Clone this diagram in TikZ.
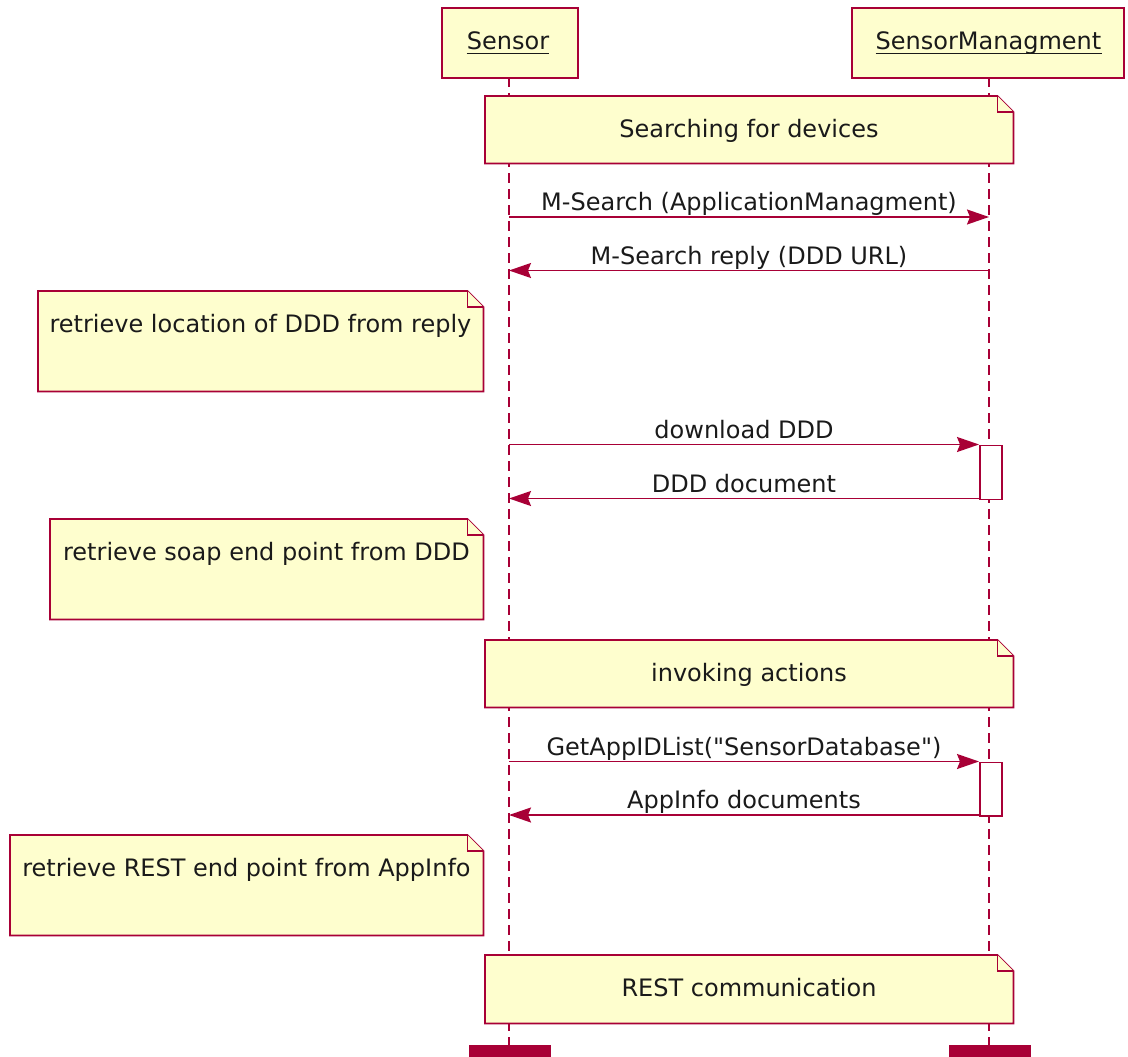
\documentclass[tikz,border=0pt]{standalone}
\usepackage{fontspec}
\setmainfont{DejaVu Sans}[Ligatures=TeXOff]
\usetikzlibrary{arrows.meta}
\definecolor{umlred}{HTML}{A80036}
\definecolor{umlfill}{HTML}{FEFECE}
\definecolor{umltext}{HTML}{1A1A1A}
\tikzset{
  x=1pt, y=-1pt,
  every node/.style={font=\fontsize{24}{28}\selectfont, text=umltext},
  participant/.style={draw=umlred, fill=umlfill, line width=2.2pt, inner sep=0pt, anchor=north west},
  lifeline/.style={draw=umlred, line width=1.8pt, dash pattern=on 10pt off 6pt},
  msg/.style={draw=umlred, line width=1.7pt, -{Stealth[length=22pt,width=15pt,inset=3pt]}},
  notebody/.style={draw=umlred, fill=umlfill, line width=1.8pt, line join=miter},
  notearea/.style={inner sep=0pt, anchor=north west},
  activation/.style={draw=umlred, fill=white, line width=1.8pt, inner sep=0pt, anchor=north west},
  footer/.style={fill=umlred, draw=none, inner sep=0pt, anchor=north west},
  lbl/.style={anchor=base, inner sep=0pt},
  uline/.style={draw=umltext, line width=1.3pt},
}
\newcommand{\umlnote}[6]{%
  \node[notearea, minimum width={#4-#2}, minimum height={#5-#3}] (#1) at (#2,#3) {};
  \path[notebody] (#1.north west) -- ([xshift=-16pt]#1.north east) -- ([yshift=-16pt]#1.north east)
     -- (#1.south east) -- (#1.south west) -- cycle;
  \path[notebody] ([xshift=-16pt]#1.north east) -- ([xshift=-16pt,yshift=-16pt]#1.north east) -- ([yshift=-16pt]#1.north east);
  \node[lbl] (#1-text) at ({(#2+#4)/2},{#3+41}) {#6};
}
\begin{document}
\begin{tikzpicture}
\useasboundingbox (0,0) rectangle (1128,1057);

% lifelines
\coordinate (sTop) at (509,77);
\coordinate (sBot) at (509,1045);
\coordinate (mTop) at (989,77);
\coordinate (mBot) at (989,1045);
\draw[lifeline] (sTop) -- (sBot);
\draw[lifeline] (mTop) -- (mBot);

% participants
\node[participant, minimum width=136pt, minimum height=70pt] (sensor) at (441,7) {};
\node[lbl] (sensorText) at (508,50) {Sensor};
\draw[uline] ([yshift=-3.5pt]sensorText.base west) -- ([yshift=-3.5pt]sensorText.base east);
\node[participant, minimum width=272pt, minimum height=70pt] (mgmt) at (851,7) {};
\node[lbl] (mgmtText) at (988.5,50) {SensorManagment};
\draw[uline] ([yshift=-3.5pt]mgmtText.base west) -- ([yshift=-3.5pt]mgmtText.base east);

% notes
\umlnote{n1}{485}{96}{1013}{163}{Searching for devices}

% messages 1 & 2
\coordinate (s1) at (509,217);  \coordinate (m1) at (989,217);
\draw[msg] (s1) -- (m1);
\node[lbl] (l1) at (749,210) {M-Search (ApplicationManagment)};
\coordinate (s2) at (509,270.5); \coordinate (m2) at (989,270.5);
\draw[msg] (m2) -- (s2);
\node[lbl] (l2) at (749,264) {M-Search reply (DDD URL)};

\umlnote{n2}{38}{291}{483}{391}{retrieve location of DDD from reply}

% activation 1
\node[activation, minimum width=22pt, minimum height=54pt] (act1) at (979,444.5) {};
\coordinate (s3) at (509,444.5); \coordinate (m3) at (979,444.5);
\draw[msg] (s3) -- (m3);
\node[lbl] (l3) at (744,438) {download DDD};
\coordinate (s4) at (509,498.5); \coordinate (m4) at (979,498.5);
\draw[msg] (m4) -- (s4);
\node[lbl] (l4) at (744,492) {DDD document};

\umlnote{n3}{50}{519}{483}{619}{retrieve soap end point from DDD}
\umlnote{n4}{485}{640}{1013}{707}{invoking actions}

% activation 2
\node[activation, minimum width=22pt, minimum height=53.5pt] (act2) at (979,761.5) {};
\coordinate (s5) at (509,761.5); \coordinate (m5) at (979,761.5);
\draw[msg] (s5) -- (m5);
\node[lbl] (l5) at (744,755) {GetAppIDList("SensorDatabase")};
\coordinate (s6) at (509,815); \coordinate (m6) at (979,815);
\draw[msg] (m6) -- (s6);
\node[lbl] (l6) at (744,808) {AppInfo documents};

\umlnote{n5}{10}{835}{483}{935}{retrieve REST end point from AppInfo}
\umlnote{n6}{485}{955}{1013}{1023}{REST communication}

% footers
\node[footer, minimum width=82pt, minimum height=12pt] (sFoot) at (469,1045) {};
\node[footer, minimum width=82pt, minimum height=12pt] (mFoot) at (949,1045) {};
\end{tikzpicture}
\end{document}
